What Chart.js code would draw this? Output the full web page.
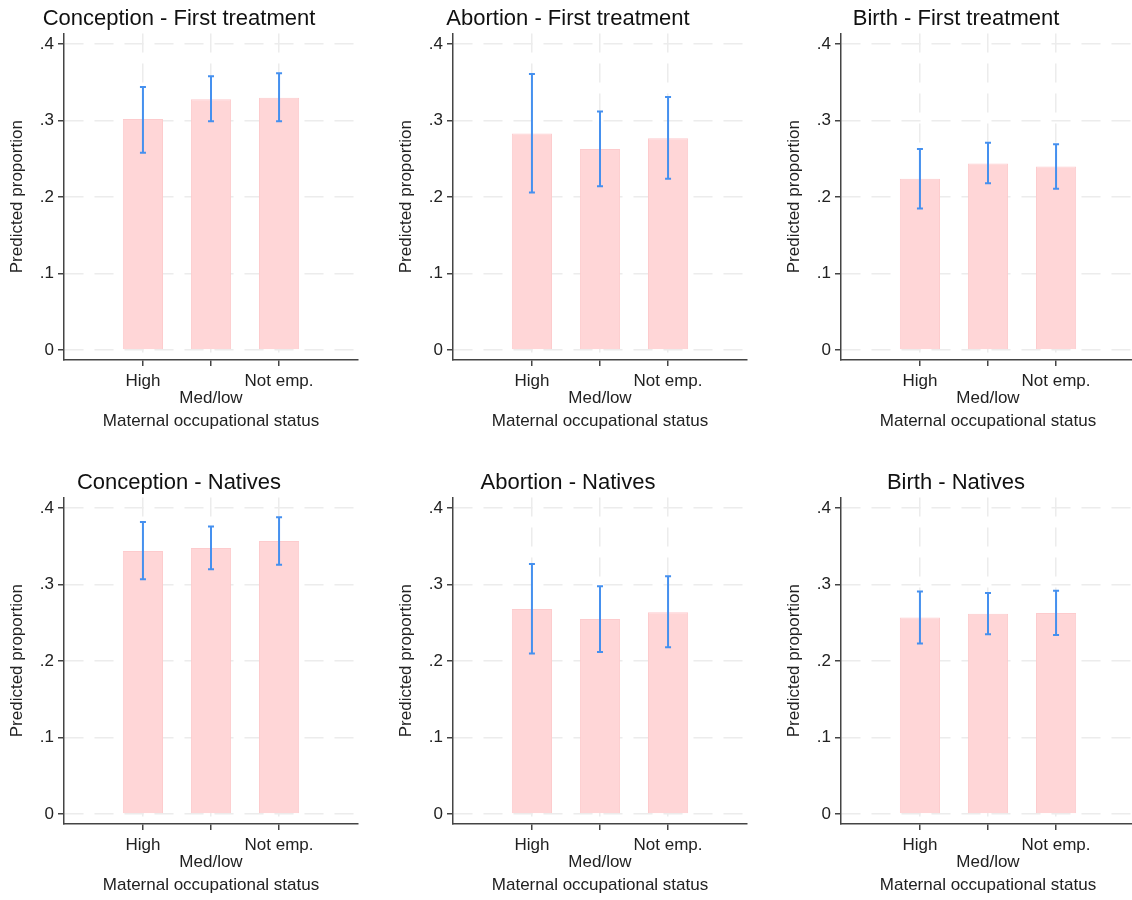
<!DOCTYPE html>
<html>
<head>
<meta charset="utf-8">
<script src="https://cdn.jsdelivr.net/npm/chart.js@4.4.0/dist/chart.umd.min.js"></script>
<style>
  body { margin: 0; background: #fff; overflow: hidden; width: 1132px; height: 900px; position: relative; }
  .panel { position: absolute; width: 364px; height: 464px; }
</style>
</head>
<body>
<div class="panel" style="left:0px;top:0px"><canvas id="c0" width="364" height="464"></canvas></div>
<div class="panel" style="left:389px;top:0px"><canvas id="c1" width="364" height="464"></canvas></div>
<div class="panel" style="left:777px;top:0px"><canvas id="c2" width="364" height="464"></canvas></div>
<div class="panel" style="left:0px;top:464px"><canvas id="c3" width="364" height="464"></canvas></div>
<div class="panel" style="left:389px;top:464px"><canvas id="c4" width="364" height="464"></canvas></div>
<div class="panel" style="left:777px;top:464px"><canvas id="c5" width="364" height="464"></canvas></div>
<script>
// data
const categories = ["High", "Med/low", "Not emp."];
const yTicks = [0, 0.1, 0.2, 0.3, 0.4];
const titles = [
  "Conception - First treatment", "Abortion - First treatment", "Birth - First treatment",
  "Conception - Natives", "Abortion - Natives", "Birth - Natives"
];

const conceptionFirst   = [0.302, 0.328, 0.330];
const conceptionFirstLo = [0.258, 0.299, 0.299];
const conceptionFirstHi = [0.344, 0.358, 0.362];

const abortionFirst   = [0.283, 0.263, 0.277];
const abortionFirstLo = [0.206, 0.214, 0.224];
const abortionFirstHi = [0.361, 0.312, 0.331];

const birthFirst   = [0.224, 0.244, 0.240];
const birthFirstLo = [0.185, 0.218, 0.211];
const birthFirstHi = [0.263, 0.271, 0.269];

const conceptionNat   = [0.344, 0.348, 0.357];
const conceptionNatLo = [0.307, 0.320, 0.326];
const conceptionNatHi = [0.382, 0.376, 0.388];

const abortionNat   = [0.268, 0.255, 0.264];
const abortionNatLo = [0.210, 0.212, 0.218];
const abortionNatHi = [0.327, 0.298, 0.311];

const birthNat   = [0.257, 0.262, 0.263];
const birthNatLo = [0.223, 0.235, 0.234];
const birthNatHi = [0.291, 0.289, 0.292];

const panels = [
  [conceptionFirst, conceptionFirstLo, conceptionFirstHi],
  [abortionFirst, abortionFirstLo, abortionFirstHi],
  [birthFirst, birthFirstLo, birthFirstHi],
  [conceptionNat, conceptionNatLo, conceptionNatHi],
  [abortionNat, abortionNatLo, abortionNatHi],
  [birthNat, birthNatLo, birthNatHi]
];

Chart.defaults.font.family = "'Liberation Sans', Arial, sans-serif";
Chart.defaults.color = "#222";

// CI whiskers drawn through the chart scales
const errorBars = {
  id: "errorBars",
  afterDatasetsDraw(chart, args, opts) {
    const { ctx, scales: { x, y } } = chart;
    ctx.save();
    ctx.strokeStyle = "#4590ef";
    ctx.lineWidth = 2;
    opts.lo.forEach((lo, i) => {
      const px = x.getPixelForValue(i + 1);
      const yLo = y.getPixelForValue(lo);
      const yHi = y.getPixelForValue(opts.hi[i]);
      ctx.beginPath();
      ctx.moveTo(px, yLo); ctx.lineTo(px, yHi);
      ctx.moveTo(px - 3, yLo); ctx.lineTo(px + 3, yLo);
      ctx.moveTo(px - 3, yHi); ctx.lineTo(px + 3, yHi);
      ctx.stroke();
    });
    ctx.restore();
  }
};

const gridOpts = {
  offset: false,
  color: "#ececec",
  lineWidth: 1.5,
  tickColor: "#444",
  tickLength: 6,
  tickWidth: 1.5,
  tickBorderDash: []
};
const borderOpts = { color: "#444", width: 1.5, dash: [19, 11] };

panels.forEach(([est, lo, hi], k) => {
  new Chart(document.getElementById("c" + k), {
    type: "bar",
    data: {
      datasets: [{
        data: est.map((v, i) => ({ x: i + 1, y: v })),
        backgroundColor: "#ffd6d7",
        borderColor: "#fdcbcd",
        borderWidth: 1,
        barPercentage: 0.59,
        categoryPercentage: 1
      }]
    },
    options: {
      responsive: false,
      animation: false,
      layout: { padding: { left: 0, right: 6, top: 0, bottom: 0 } },
      plugins: {
        legend: { display: false },
        tooltip: { enabled: false },
        title: {
          display: true,
          text: titles[k],
          color: "#111",
          font: { size: 22, weight: "normal" },
          padding: { top: 6, bottom: 1 }
        },
        errorBars: { lo: lo, hi: hi }
      },
      scales: {
        x: {
          type: "linear",
          offset: false,
          min: -0.16,
          max: 4.16,
          grid: gridOpts,
          border: borderOpts,
          afterBuildTicks: s => { s.ticks = categories.map((c, i) => ({ value: i + 1 })); },
          afterFit: s => { s.height = 104; },
          ticks: {
            autoSkip: false,
            maxRotation: 0,
            padding: 7,
            color: "#222",
            font: { size: 17, lineHeight: 1.0 },
            callback: (v, i) => i === 1 ? ["", categories[i]] : categories[i]
          },
          title: {
            display: true,
            text: "Maternal occupational status",
            color: "#222",
            font: { size: 17 },
            padding: { top: 0, bottom: 32 }
          }
        },
        y: {
          min: -0.013,
          max: 0.414,
          grid: gridOpts,
          border: borderOpts,
          afterBuildTicks: s => { s.ticks = yTicks.map(v => ({ value: v })); },
          afterFit: s => { s.width = 64; },
          ticks: {
            padding: 4,
            color: "#222",
            font: { size: 17 },
            callback: v => v === 0 ? "0" : v.toFixed(1).replace(/^0/, "")
          },
          title: {
            display: true,
            text: "Predicted proportion",
            color: "#222",
            font: { size: 17 },
            padding: { top: 7, bottom: 0 }
          }
        }
      }
    },
    plugins: [errorBars]
  });
});
</script>
</body>
</html>
